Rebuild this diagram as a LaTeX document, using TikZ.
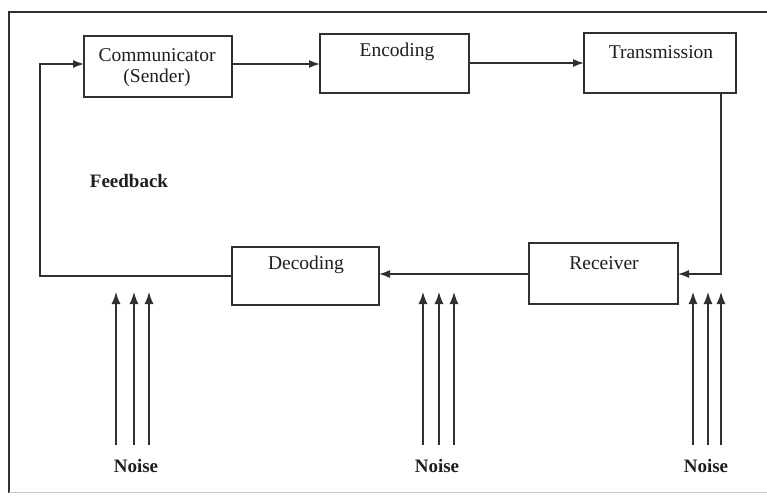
\documentclass[tikz,border=0pt]{standalone}
\usepackage{fontspec}
\setmainfont{Liberation Serif}
\usetikzlibrary{arrows.meta}
\definecolor{ink}{HTML}{303030}
\definecolor{txt}{HTML}{1E1E1E}
\definecolor{faint}{HTML}{C8C8C8}
\begin{document}
\begin{tikzpicture}[x=1pt,y=-1pt,
  every node/.style={inner sep=0pt,outer sep=0pt},
  blockbox/.style={draw=ink,line width=1.4pt,anchor=north west},
  blocktext/.style={text=txt,font=\fontsize{19.5}{21}\selectfont,align=center},
  boldtext/.style={text=txt,font=\bfseries\fontsize{19}{21}\selectfont},
  flow/.style={draw=ink,line width=1.3pt,-{Latex[length=11pt,width=8pt]}},
  noisearrow/.style={draw=ink,line width=1.3pt,-{Latex[length=12pt,width=9pt]}}]
  \useasboundingbox (0,0) rectangle (767,495);
  \fill[white] (0,0) rectangle (767,495);

  % outer frame
  \draw[ink,line width=1.3pt] (767,12) -- (9,12) -- (9,493);
  \draw[faint,line width=1pt] (9,492) -- (767,492);

  % blocks
  \node[blockbox,minimum width=148pt,minimum height=61pt] (comm) at (84,36) {};
  \node[blockbox,minimum width=149pt,minimum height=59pt] (enc) at (320,34) {};
  \node[blockbox,minimum width=152pt,minimum height=60pt] (trans) at (584,33) {};
  \node[blockbox,minimum width=149pt,minimum height=61pt] (recv) at (529,243) {};
  \node[blockbox,minimum width=147pt,minimum height=58pt] (dec) at (232,247) {};

  % block labels
  \node[blocktext] (commt) at (157,68) {Communicator\\(Sender)};
  \node[blocktext] (enct) at (397,52) {Encoding};
  \node[blocktext] (transt) at (661,52) {Transmission};
  \node[blocktext] (recvt) at (604,263) {Receiver};
  \node[blocktext] (dect) at (306,265) {Decoding};
  \node[boldtext] (fb) at (129,181) {Feedback};

  % main flow
  \coordinate (c1) at (232,64);
  \coordinate (e0) at (320,64);
  \coordinate (e1) at (469,63);
  \coordinate (t0) at (584,63);
  \draw[flow] (c1) -- (e0);
  \draw[flow] (e1) -- (t0);
  \coordinate (tb) at (721,93);
  \coordinate (tc) at (721,274);
  \coordinate (r1) at (678,274);
  \draw[flow] (tb) -- (tc) -- (r1);
  \coordinate (r0) at (529,274);
  \coordinate (d1) at (379,274);
  \draw[flow] (r0) -- (d1);

  % feedback loop
  \coordinate (d0) at (232,276);
  \coordinate (fl) at (40,276);
  \coordinate (ft) at (40,64);
  \coordinate (c0) at (84,64);
  \draw[flow] (d0) -- (fl) -- (ft) -- (c0);

  % noise sources
  \foreach \gx/\name in {116/na,134/nb,149/nc,423/nd,439/ne,454/nf,693/ng,708/nh,721/ni}{
    \coordinate (\name b) at (\gx,445);
    \coordinate (\name t) at (\gx,292);
    \draw[noisearrow] (\name b) -- (\name t);
  }
  \node[boldtext] (noise1) at (136,466) {Noise};
  \node[boldtext] (noise2) at (437,466) {Noise};
  \node[boldtext] (noise3) at (706,466) {Noise};
\end{tikzpicture}
\end{document}
